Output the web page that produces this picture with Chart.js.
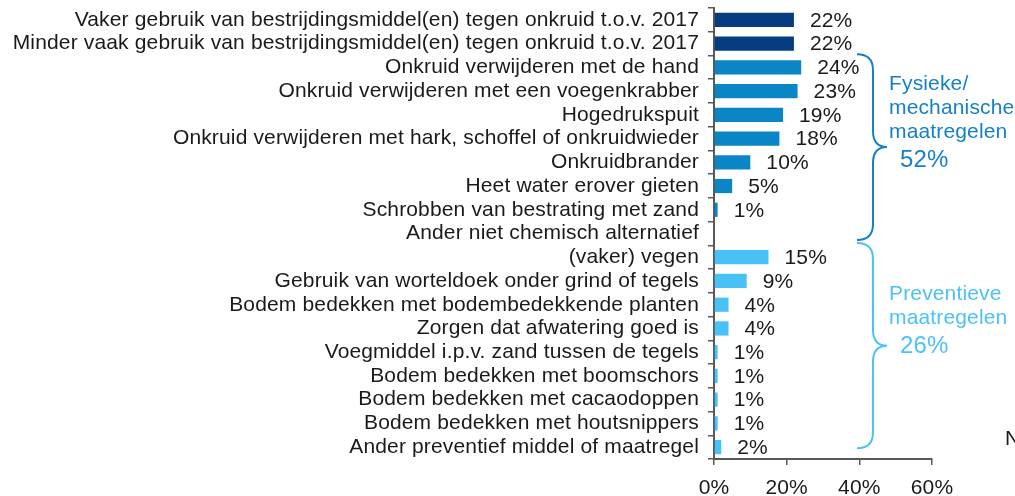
<!DOCTYPE html>
<html>
<head>
<meta charset="utf-8">
<script src="https://cdn.jsdelivr.net/npm/chart.js@4"></script>
<style>
  html, body { margin: 0; padding: 0; background: #ffffff; }
  #wrap { width: 1015px; height: 496px; position: relative; }
</style>
</head>
<body>
<div id="wrap"><canvas id="weedChart"></canvas></div>
<script>
// categories, top to bottom
const categories = [
    "Vaker gebruik van bestrijdingsmiddel(en) tegen onkruid t.o.v. 2017",
    "Minder vaak gebruik van bestrijdingsmiddel(en) tegen onkruid t.o.v. 2017",
    "Onkruid verwijderen met de hand",
    "Onkruid verwijderen met een voegenkrabber",
    "Hogedrukspuit",
    "Onkruid verwijderen met hark, schoffel of onkruidwieder",
    "Onkruidbrander",
    "Heet water erover gieten",
    "Schrobben van bestrating met zand",
    "Ander niet chemisch alternatief",
    "(vaker) vegen",
    "Gebruik van worteldoek onder grind of tegels",
    "Bodem bedekken met bodembedekkende planten",
    "Zorgen dat afwatering goed is",
    "Voegmiddel i.p.v. zand tussen de tegels",
    "Bodem bedekken met boomschors",
    "Bodem bedekken met cacaodoppen",
    "Bodem bedekken met houtsnippers",
    "Ander preventief middel of maatregel"
];

// percentages (null = no bar)
const values = [22, 22, 24, 23, 19, 18, 10, 5, 1, null, 15, 9, 4, 4, 1, 1, 1, 1, 2];

// group of each row
const groups = ["chem", "chem", "mech", "mech", "mech", "mech", "mech", "mech", "mech", "mech",
                "prev", "prev", "prev", "prev", "prev", "prev", "prev", "prev", "prev"];

const xTicks = [0, 20, 40, 60];

// bracket annotations: first/last row index, text lines, total
const brackets = [
    { from: 2, to: 9, lines: ["Fysieke/", "mechanische", "maatregelen"], total: "52%", color: "#1581c6",
      padTop: 0.55, padBottom: 0.27, totalDy: 13 },
    { from: 10, to: 18, lines: ["Preventieve", "maatregelen"], total: "26%", color: "#4cc2f6",
      padTop: 0.6, padBottom: 0.05, totalDy: 1 }
];

const groupColors = { chem: "#063d80", mech: "#0a86c7", prev: "#47c1f6" };
const FONT = "'Liberation Sans', Arial, sans-serif";

Chart.defaults.font.family = FONT;
Chart.defaults.font.size = 21;
Chart.defaults.color = "#1a1a1a";

/* slightly wider text, like the original */
const spacingPlugin = {
    id: "spacing",
    beforeUpdate(chart) { chart.ctx.letterSpacing = "0.15px"; },
    beforeDraw(chart) { chart.ctx.letterSpacing = "0.15px"; }
};

/* value labels to the right of the bars */
const valueLabels = {
    id: "valueLabels",
    afterDatasetsDraw(chart) {
        const ctx = chart.ctx;
        const meta = chart.getDatasetMeta(0);
        ctx.save();
        ctx.font = "21px " + FONT;
        ctx.fillStyle = "#1a1a1a";
        ctx.textAlign = "left";
        ctx.textBaseline = "middle";
        meta.data.forEach(function (bar, i) {
            if (values[i] === null) return;
            ctx.fillText(values[i] + "%", bar.x + 16, bar.y + 1);
        });
        ctx.restore();
    }
};

/* curly braces with group totals */
const bracePlugin = {
    id: "braces",
    afterDraw(chart) {
        const ctx = chart.ctx;
        const y = chart.scales.y;
        const step = y.getPixelForValue(1) - y.getPixelForValue(0);
        const x0 = chart.chartArea.right - 75;
        const xv = x0 + 16;
        const xt = xv + 14;
        ctx.save();
        brackets.forEach(function (b) {
            const top = y.getPixelForValue(b.from) - step * b.padTop;
            const bottom = y.getPixelForValue(b.to) + step * b.padBottom;
            const mid = (top + bottom) / 2;
            const r = 16;
            ctx.strokeStyle = b.color;
            ctx.lineWidth = 2;
            ctx.beginPath();
            ctx.moveTo(x0, top);
            ctx.quadraticCurveTo(xv, top, xv, top + r);
            ctx.lineTo(xv, mid - r);
            ctx.quadraticCurveTo(xv, mid, xt, mid);
            ctx.quadraticCurveTo(xv, mid, xv, mid + r);
            ctx.lineTo(xv, bottom - r);
            ctx.quadraticCurveTo(xv, bottom, x0, bottom);
            ctx.stroke();

            ctx.fillStyle = b.color;
            ctx.textAlign = "left";
            ctx.textBaseline = "middle";
            const totalY = mid + b.totalDy;
            ctx.font = "21px " + FONT;
            const lh = 24;
            const n = b.lines.length;
            b.lines.forEach(function (t, k) {
                ctx.fillText(t, xt + 2, totalY - (n - k) * lh - 4);
            });
            ctx.font = "24px " + FONT;
            ctx.fillText(b.total, xt + 13, totalY);
        });
        // cut-off note at the right edge
        ctx.fillStyle = "#1a1a1a";
        ctx.font = "21px " + FONT;
        ctx.textAlign = "left";
        ctx.textBaseline = "middle";
        ctx.fillText("N = ", 1005, 439);
        ctx.restore();
    }
};

new Chart(document.getElementById("weedChart"), {
    type: "bar",
    data: {
        labels: categories,
        datasets: [{
            data: values,
            backgroundColor: groups.map(function (g) { return groupColors[g]; }),
            barPercentage: 0.6,
            categoryPercentage: 1.0,
            borderWidth: 0
        }]
    },
    options: {
        indexAxis: "y",
        responsive: true,
        maintainAspectRatio: false,
        animation: false,
        layout: { padding: { top: 8, right: 83, bottom: 0, left: 0 } },
        plugins: {
            legend: { display: false },
            tooltip: { enabled: false }
        },
        scales: {
            x: {
                min: 0,
                max: 60,
                afterBuildTicks: function (scale) {
                    scale.ticks = xTicks.map(function (v) { return { value: v }; });
                },
                ticks: {
                    color: "#1a1a1a",
                    padding: 11,
                    font: { size: 21 },
                    callback: function (v) { return v + "%"; }
                },
                grid: { drawOnChartArea: false, drawTicks: true, tickLength: 6, color: "#595959", lineWidth: 1.5 },
                border: { color: "#595959", width: 2 },
                afterFit: function (scale) { scale.height = 37; }
            },
            y: {
                ticks: { color: "#1a1a1a", padding: 9, autoSkip: false, font: { size: 21 } },
                grid: { drawOnChartArea: false, drawTicks: true, tickLength: 6, color: "#595959", lineWidth: 1.5, offset: true },
                border: { color: "#595959", width: 2 },
                afterFit: function (scale) {
                    scale.width = 714;
                    scale.paddingTop = 0;
                    scale.paddingBottom = 0;
                }
            }
        }
    },
    plugins: [spacingPlugin, valueLabels, bracePlugin]
});
</script>
</body>
</html>
